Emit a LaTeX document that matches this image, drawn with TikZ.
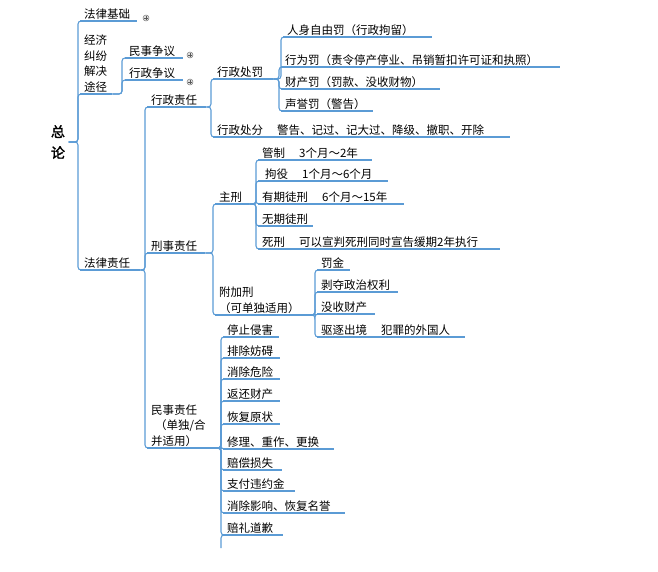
\documentclass[tikz,border=0pt]{standalone}
\usepackage{fontspec}
\setmainfont[AutoFakeBold=2]{Noto Sans CJK SC}
\usetikzlibrary{calc}
\definecolor{ln}{RGB}{91,155,213}
\begin{document}
\begin{tikzpicture}[x=1pt,y=1pt,
  lab/.style={anchor=south west,inner xsep=4pt,inner ysep=1.5pt,align=left,font=\fontsize{11.5}{15.5}\selectfont},
  line/.style={draw=ln,line width=1.3pt},
  conn/.style={draw=ln,line width=1.1pt,rounded corners=3pt},
  plus/.style={circle,draw=gray,fill=gray!25,inner sep=0pt,minimum size=6pt,line width=0.5pt}]
\useasboundingbox (0,0) rectangle (658,-571);
\newcommand\nd[5]{\pgfmathsetmacro\tw{#4-#2-8}\node[lab,text width=\tw pt] (#1) at (#2,-#3) {#5};\draw[line] (#1.south west) -- (#1.south east);}
\newcommand\br[3]{\draw[conn] (#1) -| ($(#2.south west)+(-#3,0)$) -- (#2.south west);}
\newcommand\pl[3]{\node[plus] (#1) at (#2,-#3) {}; \draw[gray!70!black,line width=0.6pt] ($(#1)+(-2,0)$) -- ($(#1)+(2,0)$) ($(#1)+(0,-2)$) -- ($(#1)+(0,2)$);}
% root
\node[align=center,font=\fontsize{14}{21}\selectfont\bfseries] (root) at (58,-142) {总\\论};
\nd{jc}{80}{21}{137}{法律基础}
\nd{jj}{80}{94}{112}{经济\\纠纷\\解决\\途径}
\nd{zr}{80}{270}{140}{法律责任}
\foreach \c in {jc,jj,zr} {\br{root.east}{\c}{2}}
\pl{p1}{146}{18}
\nd{ms}{125}{58}{183}{民事争议}
\nd{xz}{125}{80}{183}{行政争议}
\pl{p2}{190}{55}
\pl{p3}{190}{82}
\br{jj.south east}{ms}{3}
\br{jj.south east}{xz}{3}
% 法律责任
\nd{xzzr}{147}{107}{206}{行政责任}
\nd{xszr}{147}{253}{205}{刑事责任}
\nd{mszr}{147}{448}{213}{民事责任\\\hspace*{4pt}（单独/合\\并适用）}
\foreach \c in {xzzr,xszr,mszr} {\br{zr.south east}{\c}{2}}
% 行政责任
\nd{xzcf}{213}{79}{273}{行政处罚}
\nd{xzcfen}{213}{137}{510}{行政处分\hspace{14pt}警告、记过、记大过、降级、撤职、开除}
\br{xzzr.south east}{xzcf}{2}
\br{xzzr.south east}{xzcfen}{2}
\nd{a1}{283}{37}{432}{人身自由罚（行政拘留）}
\nd{a2}{281}{67}{560}{行为罚（责令停产停业、吊销暂扣许可证和执照）}
\nd{a3}{281}{89}{440}{财产罚（罚款、没收财物）}
\nd{a4}{281}{111}{373}{声誉罚（警告）}
\foreach \c in {a1,a2,a3,a4} {\br{xzcf.south east}{\c}{2}}
% 刑事责任
\nd{zx}{215}{204}{249}{主刑}
\nd{fjx}{215}{315}{312}{附加刑\\（可单独适用）}
\br{xszr.south east}{zx}{2}
\br{xszr.south east}{fjx}{2}
\nd{b1}{258}{160}{372}{管制\hspace{14pt}3个月～2年}
\nd{b2}{258}{181}{388}{\hspace*{3pt}拘役\hspace{14pt}1个月～6个月}
\nd{b3}{258}{204}{404}{有期徒刑\hspace{14pt}6个月～15年}
\nd{b4}{258}{226}{313}{无期徒刑}
\nd{b5}{258}{249}{500}{死刑\hspace{14pt}可以宣判死刑同时宣告缓期2年执行}
\foreach \c in {b1,b2,b3,b4,b5} {\br{zx.south east}{\c}{2}}
\nd{c1}{317}{270}{350}{罚金}
\nd{c2}{317}{292}{398}{剥夺政治权利}
\nd{c3}{317}{314}{375}{没收财产}
\nd{c4}{317}{337}{465}{驱逐出境\hspace{14pt}犯罪的外国人}
\foreach \c in {c1,c2,c3,c4} {\br{fjx.south east}{\c}{2}}
% 民事责任
\nd{d1}{223}{337}{279}{停止侵害}
\nd{d2}{223}{358}{280}{排除妨碍}
\nd{d3}{223}{379}{280}{消除危险}
\nd{d4}{223}{401}{280}{返还财产}
\nd{d5}{223}{424}{280}{恢复原状}
\nd{d6}{223}{449}{334}{修理、重作、更换}
\nd{d7}{223}{470}{282}{赔偿损失}
\nd{d8}{223}{491}{295}{支付违约金}
\nd{d9}{223}{513}{345}{消除影响、恢复名誉}
\nd{d10}{223}{535}{283}{赔礼道歉}
\foreach \c in {d1,d2,d3,d4,d5,d6,d7,d8,d9,d10} {\br{mszr.south east}{\c}{2}}
\coordinate (dend) at (221,-548);
\draw[conn] (d10.south west) -- ++(-2,0) -- (dend);
\end{tikzpicture}
\end{document}
